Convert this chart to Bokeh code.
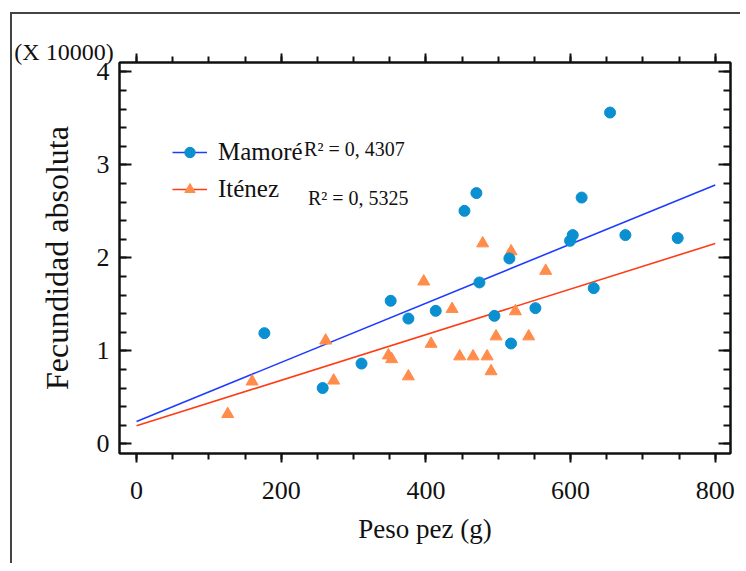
import numpy as np
from bokeh.plotting import figure
from bokeh.models import (Range1d, FixedTicker, LinearAxis, Label, Legend,
                          LegendItem, CustomJSTickFormatter, Title)
from bokeh.embed import file_html
from bokeh.resources import INLINE

# ---------------- data (units of 10000) ----------------
mamore_x = [176.7, 257.3, 311.0, 351.3, 375.8, 413.6, 453.3, 469.8, 474.0, 494.7,
            515.4, 517.7, 551.4, 599.3, 603.0, 615.3, 632.0, 654.6, 675.8, 748.1]
mamore_y = [1.19, 0.60, 0.863, 1.538, 1.347, 1.43, 2.505, 2.696, 1.735, 1.376,
            1.993, 1.079, 1.459, 2.183, 2.244, 2.648, 1.674, 3.562, 2.244, 2.212]
itenez_x = [126.0, 159.7, 261.4, 272.5, 348.1, 352.7, 375.8, 397.0, 407.2, 436.2,
            446.7, 465.2, 478.5, 484.6, 490.1, 497.0, 517.8, 523.7, 542.1, 565.6]
itenez_y = [0.32, 0.67, 1.11, 0.68, 0.95, 0.91, 0.725, 1.745, 1.075, 1.45,
            0.94, 0.94, 2.155, 0.94, 0.78, 1.155, 2.07, 1.425, 1.155, 1.86]

# regression coefficients (intercept, slope) and R^2 labels
mamore_fit = [0.24, 0.00318]
itenez_fit = [0.194, 0.00245]
fit_domain = [0, 800]
series_names = ["Mamoré", "Iténez"]
r2_labels = ["R² = 0, 4307", "R² = 0, 5325"]

x_ticks = [0, 200, 400, 600, 800]
y_ticks = [0, 1, 2, 3, 4]

FONT = "Liberation Serif"
BLUE_PT = "#0a8fd0"
ORANGE_PT = "#ff8c4a"
BLUE_LN = "#1e3cff"
RED_LN = "#ff3c14"
INK = "#111111"

p = figure(frame_width=611, frame_height=391,
           min_border_left=107, min_border_top=48, min_border_right=10,
           min_border_bottom=110,
           x_range=Range1d(-23.6, 821.1), y_range=Range1d(-0.104, 4.10),
           output_backend="svg", toolbar_location=None,
           x_axis_location=None, y_axis_location=None,
           margin=(12, 0, 0, 10),
           styles={"border-top": "2px solid #444", "border-left": "2px solid #444"})
p.grid.visible = False
p.background_fill_color = "white"
p.border_fill_color = "white"
p.outline_line_color = INK
p.outline_line_width = 2

x_minor = list(range(0, 801, 50))
y_minor = [round(v * 0.2, 1) for v in range(0, 21)]
xt = FixedTicker(ticks=x_ticks, minor_ticks=x_minor)
yt = FixedTicker(ticks=y_ticks, minor_ticks=y_minor)
blank = CustomJSTickFormatter(code="return ''")


def style_axis(ax, inward, labels):
    ax.axis_line_width = 2
    ax.axis_line_color = INK
    ax.major_tick_line_width = 2
    ax.minor_tick_line_width = 2
    ax.major_tick_line_color = INK
    ax.minor_tick_line_color = INK
    if inward:
        ax.major_tick_in, ax.major_tick_out = 12, 0
        ax.minor_tick_in, ax.minor_tick_out = 7, 0
    else:
        ax.major_tick_in, ax.major_tick_out = 0, 9
        ax.minor_tick_in, ax.minor_tick_out = 0, 6
    if labels:
        ax.major_label_text_font = FONT
        ax.major_label_text_font_size = "26px"
        ax.major_label_text_color = INK
    else:
        ax.formatter = blank
        ax.major_label_text_font_size = "1px"
        ax.major_label_standoff = 0


xb = LinearAxis(ticker=xt)
style_axis(xb, False, True)
xb.major_label_standoff = 19
xb.axis_label = "Peso pez (g)"
xb.axis_label_text_font = FONT
xb.axis_label_text_font_size = "27px"
xb.axis_label_text_font_style = "normal"
xb.axis_label_text_color = INK
xb.axis_label_standoff = 12
p.add_layout(xb, "below")

xa = LinearAxis(ticker=xt)
style_axis(xa, False, False)
p.add_layout(xa, "above")

yl = LinearAxis(ticker=yt)
style_axis(yl, True, True)
yl.major_label_standoff = 10
p.add_layout(yl, "left")

yr = LinearAxis(ticker=yt)
style_axis(yr, True, False)
p.add_layout(yr, "right")

# regression lines
fx = np.array(fit_domain, dtype=float)
l1 = p.line(fx, mamore_fit[0] + mamore_fit[1] * fx, line_color=BLUE_LN, line_width=1.6)
l2 = p.line(fx, itenez_fit[0] + itenez_fit[1] * fx, line_color=RED_LN, line_width=1.6)

# points
s2 = p.scatter(itenez_x, itenez_y, marker="triangle", size=12,
               fill_color=ORANGE_PT, line_color=ORANGE_PT)
s1 = p.scatter(mamore_x, mamore_y, marker="circle", size=11,
               fill_color=BLUE_PT, line_color=BLUE_PT)

legend = Legend(items=[LegendItem(label=series_names[0], renderers=[l1, s1]),
                       LegendItem(label=series_names[1], renderers=[l2, s2])],
                location=(53, 250), padding=0, margin=0, spacing=9,
                glyph_width=35, glyph_height=26, label_standoff=11,
                label_text_font=FONT, label_text_font_size="25px",
                label_text_color=INK,
                border_line_color=None, background_fill_alpha=0)
p.add_layout(legend, "center")

# R^2 annotations
p.add_layout(Label(x=231.6, y=3.165, text=r2_labels[0], text_font=FONT,
                   text_font_size="20px", text_color=INK,
                   text_align="left", text_baseline="alphabetic"))
p.add_layout(Label(x=237.0, y=2.645, text=r2_labels[1], text_font=FONT,
                   text_font_size="20px", text_color=INK,
                   text_align="left", text_baseline="alphabetic"))

# y-axis title (left side title, rotated)
ytitle = Title(text="Fecundidad absoluta", align="center", offset=8,
               standoff=38, text_font=FONT, text_font_size="32px",
               text_font_style="normal", text_color=INK)
p.add_layout(ytitle, "left")

# multiplier text, placed in the top side panel
p.add_layout(Label(x=-169.0, y=4.212, text="(X 10000)", text_font=FONT,
                   text_font_size="24px", text_color=INK,
                   text_align="left", text_baseline="middle"), "above")

open("out.html", "w").write(file_html(p, INLINE))
